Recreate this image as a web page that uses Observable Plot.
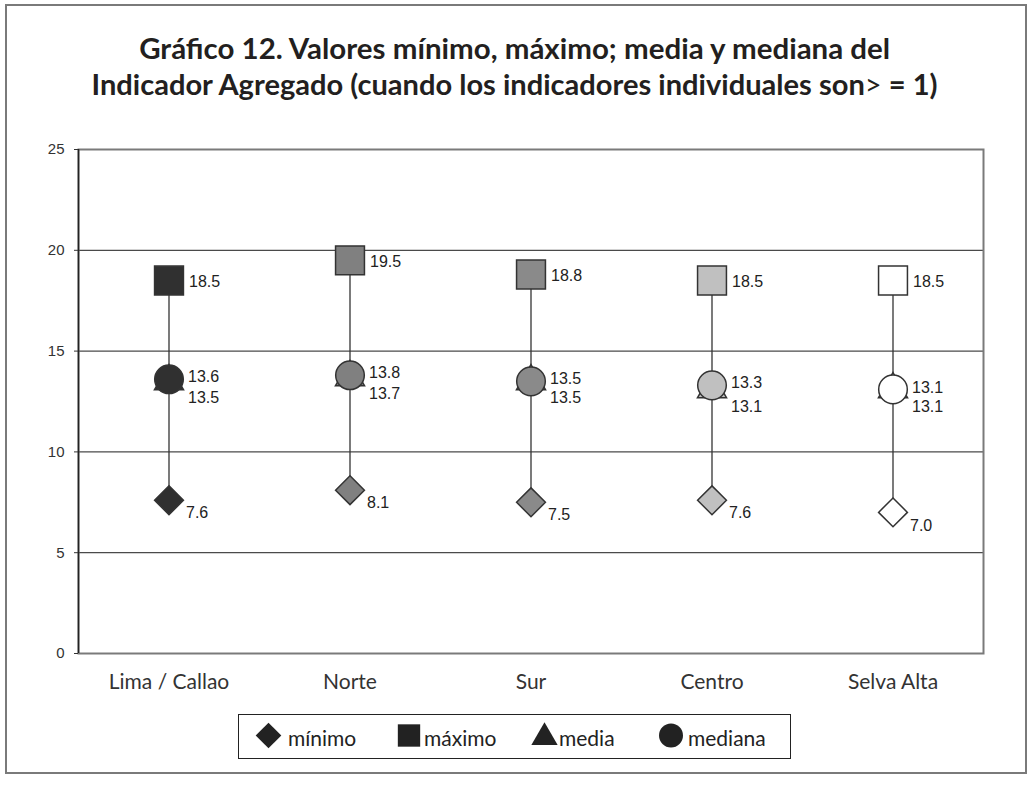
<!DOCTYPE html>
<html>
<head>
<meta charset="utf-8">
<script src="https://cdn.jsdelivr.net/npm/d3@7"></script>
<script src="https://cdn.jsdelivr.net/npm/@observablehq/plot@0.6"></script>
<style>
  html, body { margin: 0; padding: 0; background: #fff; }
  #page { position: relative; width: 1029px; height: 785px; overflow: hidden; }
  #border { position: absolute; left: 5px; top: 4px; width: 1022px; height: 770px; box-sizing: border-box; border: 2px solid #7a7a7a; }
  .tline { position: absolute; left: 0; width: 1029px; text-align: center; font-family: Lato, "Open Sans", sans-serif; font-weight: 700; font-size: 28px; line-height: 28px; color: #231f20; white-space: nowrap; }
  .tline span.inner { display: inline-block; transform-origin: 50% 50%; }
  #chart { position: absolute; left: 0; top: 0; }
  #chart g[aria-label="y-axis tick label"] { font-size: 15px; font-family: "Liberation Sans", Arial, sans-serif; }
  #chart g[aria-label="x-axis tick label"] { font-size: 21px; font-family: Lato, "Open Sans", sans-serif; }
  #legend { position: absolute; left: 238px; top: 714px; width: 553px; height: 45px; box-sizing: border-box; border: 1.5px solid #222; }
</style>
</head>
<body>
<div id="page">
  <div id="border"></div>
  <div class="tline" id="t1" style="top:34px"><span class="inner">Gráfico 12. Valores mínimo, máximo; media y mediana del</span></div>
  <div class="tline" id="t2" style="top:70px"><span class="inner">Indicador Agregado (cuando los indicadores individuales son<span style="font-weight:400">&gt;</span> = 1)</span></div>
  <div id="chart"></div>
  <div id="legend"></div>
</div>
<script>
const categories = ["Lima / Callao", "Norte", "Sur", "Centro", "Selva Alta"];
const minimo  = [7.6, 8.1, 7.5, 7.6, 7.0];
const maximo  = [18.5, 19.5, 18.8, 18.5, 18.5];
const media   = [13.5, 13.7, 13.5, 13.1, 13.1];
const mediana = [13.6, 13.8, 13.5, 13.3, 13.1];
const yTicks  = [0, 5, 10, 15, 20, 25];
const seriesNames = ["mínimo", "máximo", "media", "mediana"];
const regionFills = ["#303030", "#808080", "#8a8a8a", "#c0c0c0", "#ffffff"];

const rows = categories.map((c, i) => ({
  cat: c, min: minimo[i], max: maximo[i], media: media[i], mediana: mediana[i], fill: regionFills[i]
}));

const fmt = v => v.toFixed(1);
const labelFont = "'Liberation Sans', Arial, sans-serif";
const labelStyle = { x: "cat", textAnchor: "start", fontSize: 16, fontFamily: labelFont, fill: "#222" };

const chart = Plot.plot({
  width: 1029,
  height: 700,
  marginLeft: 78,
  marginRight: 46,
  marginTop: 149,
  marginBottom: 47,
  style: { background: "transparent", overflow: "visible" },
  x: { type: "band", domain: categories, padding: 0, label: null },
  y: { domain: [0, 25], label: null },
  color: { type: "identity" },
  marks: [
    Plot.ruleY(yTicks.filter(t => t > 0 && t < 25), { stroke: "#4a4a4a", strokeWidth: 1.3 }),
    Plot.frame({ stroke: "#7a7a7a", strokeWidth: 2 }),
    Plot.ruleX([categories[0]], { x: d => d, dx: -90.5, y1: 0, y2: 25, stroke: "#222", strokeWidth: 1.5 }),
    Plot.axisY({ ticks: yTicks, tickSize: 4, tickPadding: 10, fontSize: 15, fontFamily: "'Liberation Sans', Arial, sans-serif", color: "#333", label: null }),
    Plot.axisX({ tickSize: 0, tickPadding: 21, fontSize: 21, fontFamily: "Lato, 'Open Sans', sans-serif", color: "#333", label: null }),
    Plot.ruleX(rows, { x: "cat", y1: "min", y2: "max", stroke: "#333", strokeWidth: 1.3 }),
    Plot.dot(rows, { x: "cat", y: "min", symbol: "diamond2", r: 13, fill: "fill", stroke: "#333", strokeWidth: 1.5 }),
    Plot.dot(rows, { x: "cat", y: "max", symbol: "square", r: 16.3, fill: "fill", stroke: "#333", strokeWidth: 1.5 }),
    Plot.dot(rows, { x: "cat", y: "media", symbol: "triangle", r: 10.8, fill: "fill", stroke: "#333", strokeWidth: 1.5 }),
    Plot.dot(rows, { x: "cat", y: "mediana", symbol: "circle", r: 14.3, fill: "fill", stroke: "#333", strokeWidth: 1.5 }),
    Plot.text(rows, { ...labelStyle, y: "max", text: d => fmt(d.max), dx: 20, dy: 1 }),
    Plot.text(rows, { ...labelStyle, y: "mediana", text: d => fmt(d.mediana), dx: 19, dy: -2 }),
    Plot.text(rows, { ...labelStyle, y: "media", text: d => fmt(d.media), dx: 19, dy: 17 }),
    Plot.text(rows, { ...labelStyle, y: "min", text: d => fmt(d.min), dx: 17, dy: 13 })
  ]
});
document.getElementById("chart").appendChild(chart);

// Title width fitting (condensed typeface in original)
[["t1", 751], ["t2", 846]].forEach(([id, target]) => {
  const s = document.querySelector("#" + id + " .inner");
  const w = s.getBoundingClientRect().width;
  if (w > 0) s.style.transform = `scaleX(${target / w})`;
});

// Legend
const legendSymbols = [d3.symbolDiamond2, d3.symbolSquare, d3.symbolTriangle, d3.symbolCircle];
const legendSizes = [420, 500, 300, 452];
const legendSym = [29.5, 170, 305.5, 432];
const legendTxt = [49, 185, 320, 449];
const lsvg = d3.select("#legend").append("svg").attr("width", 550).attr("height", 42).style("display", "block");
seriesNames.forEach((name, i) => {
  lsvg.append("path")
    .attr("d", d3.symbol(legendSymbols[i], legendSizes[i])())
    .attr("transform", `translate(${legendSym[i]},${i === 2 ? 22.5 : 20.5})`)
    .attr("fill", "#222");
  lsvg.append("text")
    .attr("x", legendTxt[i]).attr("y", 30.5)
    .attr("font-family", "Lato, 'Open Sans', sans-serif")
    .attr("font-size", 21)
    .attr("fill", "#222")
    .text(name);
});
</script>
</body>
</html>
